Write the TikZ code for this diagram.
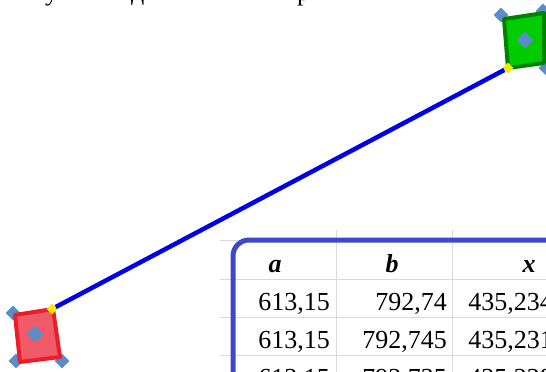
\documentclass[tikz,border=0pt]{standalone}
\usepackage{fontspec}
\setmainfont{Liberation Serif}
\usetikzlibrary{shapes.geometric}
\definecolor{linkblue}{RGB}{0,0,230}
\definecolor{tblborder}{RGB}{63,72,204}
\definecolor{gridgrey}{RGB}{217,217,217}
\definecolor{redfill}{RGB}{240,90,105}
\definecolor{redline}{RGB}{235,30,40}
\definecolor{greenfill}{RGB}{0,204,0}
\definecolor{greenline}{RGB}{0,130,0}
\definecolor{handleblue}{RGB}{90,140,200}
\definecolor{handleyellow}{RGB}{255,230,0}
\begin{document}
\begin{tikzpicture}[x=1pt,y=-1pt,
  handle/.style={diamond, fill=handleblue, inner sep=0pt, minimum size=15pt},
  centerhandle/.style={handle, minimum size=17pt},
  grip/.style={diamond, fill=handleyellow, inner sep=0pt, minimum size=11pt},
  gridline/.style={draw=gridgrey, line width=1pt},
  cell/.style={font=\fontsize{26}{30}\selectfont, inner sep=0pt, anchor=base east},
  head/.style={font=\fontsize{26}{30}\selectfont\bfseries\itshape, inner sep=0pt, anchor=base},
  topglyph/.style={font=\fontsize{26}{30}\selectfont, inner sep=0pt, anchor=base west},
  redbox/.style={fill=redfill, draw=redline, line width=4pt, line join=round},
  greenbox/.style={fill=greenfill, draw=greenline, line width=4pt, line join=round},
  link/.style={draw=linkblue, line width=4.5pt}]
\useasboundingbox (0,0) rectangle (546,372);
\begin{scope}
\clip (0,0) rectangle (546,372);
% partial text line above (only descenders visible)
\node[topglyph] (t1) at (45,0) {у};
\node[topglyph] (t2) at (131,0) {д};
\node[topglyph] (t3) at (297,0) {р};
% spreadsheet grid
\draw[gridline] (220,240) -- (238,240);
\draw[gridline] (220,279) -- (546,279);
\draw[gridline] (220,317) -- (546,317);
\draw[gridline] (220,355) -- (546,355);
\draw[gridline] (336,230) -- (336,372);
\draw[gridline] (452,230) -- (452,372);
% table border
\draw[tblborder, line width=5pt, rounded corners=16pt] (233,420) -- (233,240) -- (620,240);
% table header
\node[head] (ha) at (275,272) {a};
\node[head] (hb) at (392,272) {b};
\node[head] (hx) at (529,272) {x};
% table rows
\node[cell] (r1a) at (330,310) {613,15};
\node[cell] (r1b) at (447,310) {792,74};
\node[cell] (r1x) at (553,310) {435,234};
\node[cell] (r2a) at (330,348) {613,15};
\node[cell] (r2b) at (447,348) {792,745};
\node[cell] (r2x) at (553,348) {435,231};
\node[cell] (r3a) at (330,386) {613,15};
\node[cell] (r3b) at (447,386) {792,735};
\node[cell] (r3x) at (553,386) {435,228};
% corner handles (behind boxes)
\node[handle] (rh1) at (13,313) {};
\node[handle] (rh2) at (16,361) {};
\node[handle] (rh3) at (62,361) {};
\node[handle] (gh1) at (501,15) {};
\node[handle] (gh2) at (543,11) {};
\node[handle] (gh3) at (546,68) {};
% red box
\coordinate (rTL) at (15,315);
\coordinate (rTR) at (53,309);
\coordinate (rBR) at (60,357);
\coordinate (rBL) at (20,362);
\draw[redbox] (rTL) -- (rTR) -- (rBR) -- (rBL) -- cycle;
% green box
\coordinate (gTL) at (504,19);
\coordinate (gTR) at (544,13);
\coordinate (gBR) at (544,63);
\coordinate (gBL) at (508,68);
\draw[greenbox] (gTL) -- (gTR) -- (gBR) -- (gBL) -- cycle;
% centre handles
\node[centerhandle] (rc) at (35,334) {};
\node[centerhandle] (gc) at (525,40) {};
% connector grips
\node[grip] (ry) at (52,309) {};
\node[grip] (gy) at (508,68) {};
% connector
\draw[link] (ry) -- (gy);
\end{scope}
\end{tikzpicture}
\end{document}
